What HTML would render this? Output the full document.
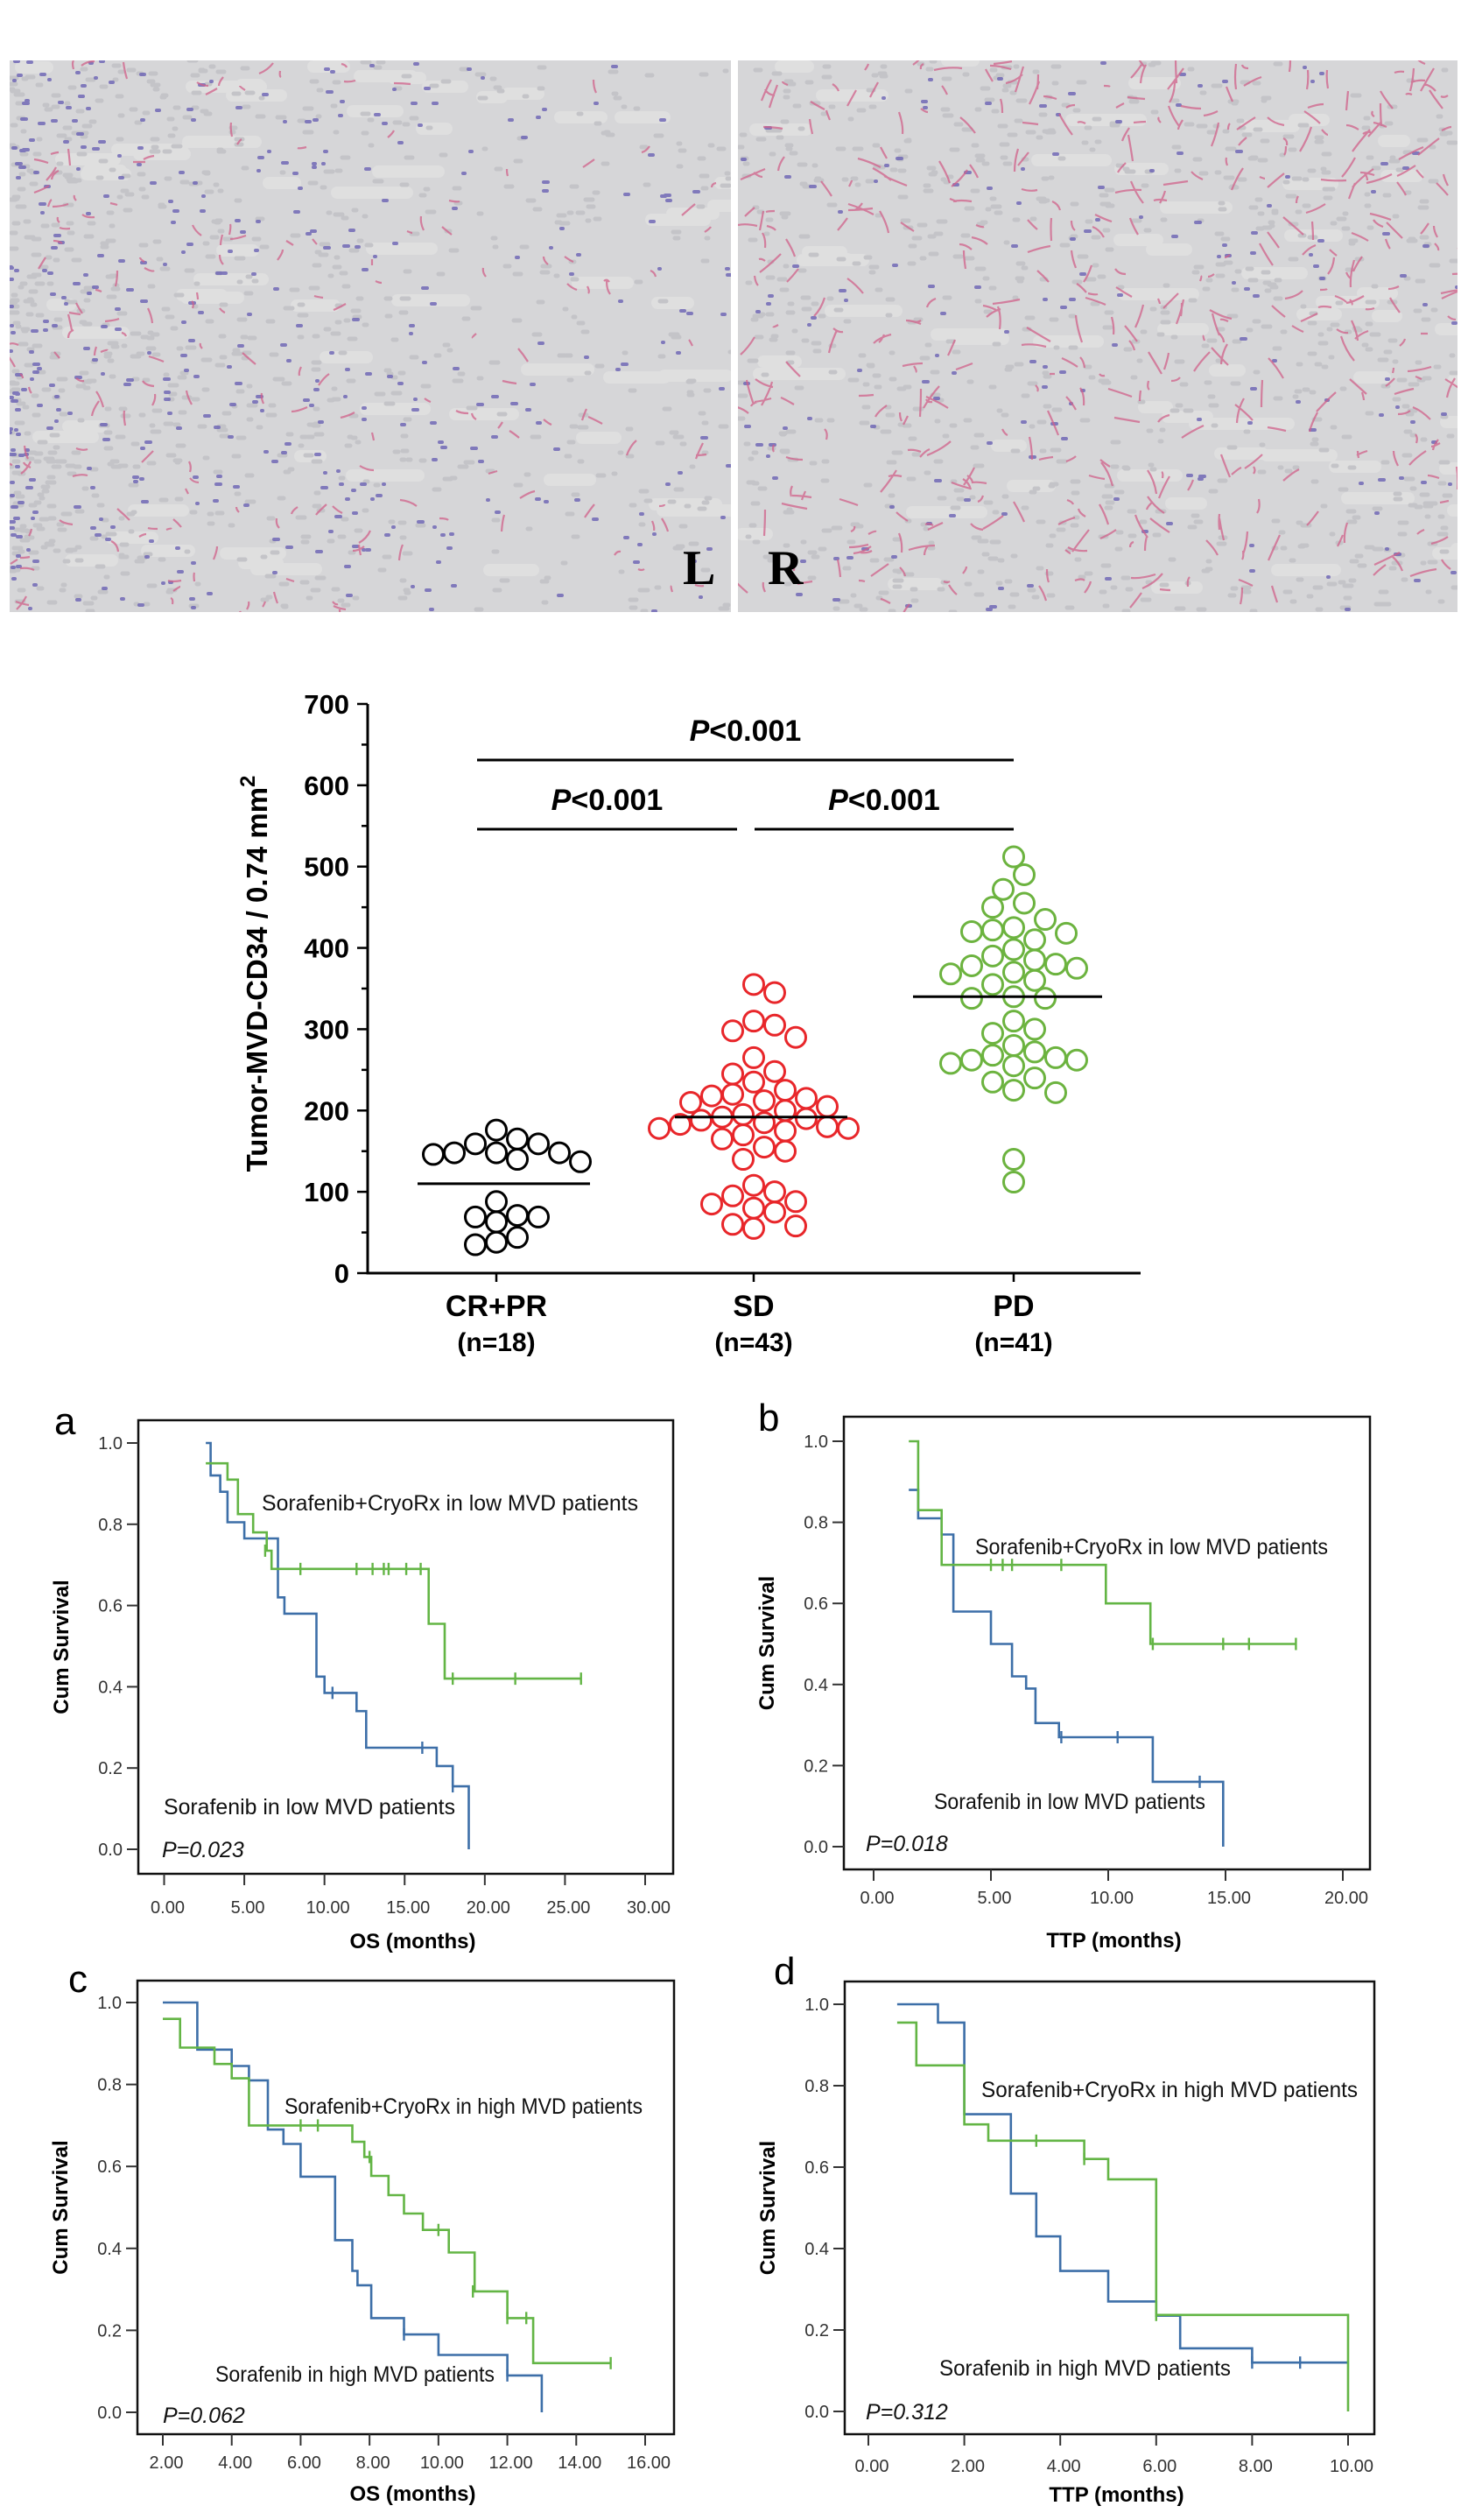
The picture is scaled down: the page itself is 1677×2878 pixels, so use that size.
<!DOCTYPE html>
<html><head><meta charset="utf-8"><title>MVD figure</title>
<style>
html,body{margin:0;padding:0;background:#fff;}
svg{display:block;font-family:"Liberation Sans",Arial,sans-serif;}
.tk{font-size:20px;fill:#333;}
.lbl{font-family:"Liberation Sans Narrow","Liberation Sans",sans-serif;font-size:25px;fill:#111;}
</style></head>
<body>
<svg id="fig" width="1677" height="2878" viewBox="0 0 1677 2878" xmlns="http://www.w3.org/2000/svg">
<defs>
  <clipPath id="clipL"><rect x="11" y="69" width="824" height="630"/></clipPath>
  <clipPath id="clipR"><rect x="843" y="69" width="822" height="630"/></clipPath>
</defs>
<g id="photos">
  <rect x="11" y="69" width="824" height="630" fill="#d6d6d8"/>
  <rect x="843" y="69" width="822" height="630" fill="#d6d6d8"/>
  <g id="tissueL" clip-path="url(#clipL)"></g>
  <g id="tissueR" clip-path="url(#clipR)"></g>
  <text x="780" y="667" font-family="Liberation Serif,serif" font-weight="bold" font-size="56">L</text>
  <text x="877" y="667" font-family="Liberation Serif,serif" font-weight="bold" font-size="56">R</text>
</g>
<g id="scatter"></g>
<g id="km"></g>
</svg>
<script>
// ---------------- scatter data ----------------
const groups = ["CR+PR","SD","PD"];
const groupN = ["(n=18)","(n=43)","(n=41)"];
const crprValues = [176,148,146,159,140,165,148,159,148,137,88,69,71,63,69,35,44,38];
const sdValues = [355,345,310,305,298,290,265,248,245,235,225,220,218,215,212,210,205,200,195,192,190,188,185,183,180,178,178,175,170,165,155,150,140,108,100,95,88,85,80,75,60,58,55];
const pdValues = [512,490,472,455,450,435,425,422,420,418,410,398,390,385,380,378,375,370,368,360,355,340,338,338,310,300,280,272,268,265,262,258,255,240,235,225,222,140,112,262,295];
const groupMeans = [110,192,340];
const yTicks = [0,100,200,300,400,500,600,700];
const sigLabels = ["P<0.001","P<0.001","P<0.001"];

// ---------------- KM data ----------------
const aBlueSteps = [[2.6,1.0],[2.9,0.92],[3.5,0.88],[3.95,0.805],[5.0,0.765],[7.1,0.62],[7.5,0.58],[9.5,0.425],[10.0,0.385],[12.0,0.34],[12.6,0.25],[17.0,0.205],[18.0,0.155],[19.0,0.0]];
const aBlueCens = [[10.5,0.385],[16.1,0.25],[18.0,0.155]];
const aGreenSteps = [[2.6,0.95],[3.95,0.91],[4.6,0.825],[5.55,0.78],[6.4,0.735],[6.7,0.69],[16.5,0.555],[17.5,0.42],[26.0,0.42]];
const aGreenCens = [[6.3,0.735],[8.5,0.69],[12,0.69],[13,0.69],[13.7,0.69],[14,0.69],[15.1,0.69],[16,0.69],[18,0.42],[21.9,0.42],[26,0.42]];
const bBlueSteps = [[1.5,0.88],[1.9,0.81],[2.9,0.77],[3.4,0.58],[5.0,0.50],[5.9,0.42],[6.5,0.39],[6.9,0.305],[7.9,0.27],[11.9,0.16],[14.9,0.0]];
const bBlueCens = [[8.0,0.27],[10.4,0.27],[13.9,0.16]];
const bGreenSteps = [[1.5,1.0],[1.9,0.83],[2.9,0.695],[9.9,0.60],[11.8,0.50],[18.0,0.50]];
const bGreenCens = [[5.0,0.695],[5.5,0.695],[5.9,0.695],[8.0,0.695],[11.9,0.5],[14.9,0.5],[16,0.5],[18,0.5]];
const cBlueSteps = [[2.0,1.0],[3.0,0.885],[4.0,0.845],[4.5,0.81],[5.05,0.69],[5.5,0.655],[6.0,0.575],[7.0,0.42],[7.5,0.345],[7.65,0.31],[8.05,0.23],[9.0,0.19],[10.0,0.14],[12.0,0.09],[13.0,0.0]];
const cBlueCens = [[9.0,0.19],[12.0,0.09]];
const cGreenSteps = [[2.0,0.96],[2.5,0.89],[3.5,0.85],[4.0,0.815],[4.5,0.70],[7.5,0.66],[7.85,0.623],[8.05,0.577],[8.55,0.53],[9.0,0.485],[9.55,0.445],[10.3,0.39],[11.05,0.295],[12.0,0.23],[12.75,0.12],[15.0,0.12]];
const cGreenCens = [[6.0,0.70],[6.5,0.70],[8.0,0.623],[10.0,0.445],[11.0,0.295],[12.0,0.23],[12.55,0.23],[15.0,0.12]];
const dBlueSteps = [[0.6,1.0],[1.45,0.955],[2.0,0.73],[2.97,0.535],[3.5,0.43],[4.0,0.345],[5.0,0.27],[6.0,0.235],[6.5,0.155],[8.0,0.12],[10.0,0.12]];
const dBlueCens = [[8.0,0.12],[9.0,0.12]];
const dGreenSteps = [[0.6,0.955],[1.0,0.85],[2.0,0.705],[2.5,0.665],[4.5,0.62],[5.0,0.57],[6.0,0.237],[10.0,0.0]];
const dGreenCens = [[3.5,0.665],[4.5,0.62],[6.0,0.237]];
const aXTicks = [0,5,10,15,20,25,30];
const bXTicks = [0,5,10,15,20];
const cXTicks = [2,4,6,8,10,12,14,16];
const dXTicks = [0,2,4,6,8,10];
const survTicks = [0,0.2,0.4,0.6,0.8,1.0];

const NS = "http://www.w3.org/2000/svg";
function mk(parent, tag, attrs, text){
  const e = document.createElementNS(NS, tag);
  for (const k in attrs) e.setAttribute(k, attrs[k]);
  if (text !== undefined) e.textContent = text;
  parent.appendChild(e);
  return e;
}

// ---------------- tissue texture (decorative) ----------------
(function(){
  let s = 7;
  function rnd(){ s = (s*16807) % 2147483647; return s/2147483647; }
  [['tissueL',11,824,true],['tissueR',843,822,false]].forEach(([id,x0,w,isLeft])=>{
    const g = document.getElementById(id);
    let d1 = "", d2 = "", d3 = "", d4 = "";
    for (let i=0;i<1400;i++){
      let x = x0 + rnd()*w, y = 69 + rnd()*630;
      if (isLeft && rnd() < 0.5) x = x0 + Math.pow(rnd(),1.8)*w*0.55;
      const r = rnd();
      if (r < (isLeft?0.3:0.12)) {
        d1 += `M${x.toFixed(0)} ${y.toFixed(0)}h${(1+rnd()*4).toFixed(0)}`;
      } else if (r < (isLeft?0.42:0.42)) {
        const a = rnd()*6.28, L = 6+rnd()*(isLeft?14:26);
        d2 += `M${x.toFixed(0)} ${y.toFixed(0)}q${(Math.cos(a)*L/2+6*(rnd()-.5)).toFixed(0)} ${(Math.sin(a)*L/2+6*(rnd()-.5)).toFixed(0)} ${(Math.cos(a)*L).toFixed(0)} ${(Math.sin(a)*L).toFixed(0)}`;
      } else {
        d3 += `M${x.toFixed(0)} ${y.toFixed(0)}h${(2+rnd()*6).toFixed(0)}`;
      }
    }
    for (let i=0;i<60;i++){
      d4 += `M${(x0+rnd()*w).toFixed(0)} ${(69+rnd()*630).toFixed(0)}h${(20+rnd()*60).toFixed(0)}`;
    }
    const p4 = mk(g,'path',{d:d4,stroke:'#e2e2e3','stroke-width':14,'stroke-linecap':'round',fill:'none',opacity:0.7});
    
    
    const p3 = mk(g,'path',{d:d3,stroke:'#c4c4c8','stroke-width':5,'stroke-linecap':'round',fill:'none'});
    
    
    const p1 = mk(g,'path',{d:d1,stroke:'#6a62b4','stroke-width':4,'stroke-linecap':'round',fill:'none',opacity:0.8});
    
    
    const p2 = mk(g,'path',{d:d2,stroke:'#d0608a','stroke-width':2.2,fill:'none',opacity:0.75});
    
    
  });
})();

// ---------------- scatter ----------------
(function(){
  const g = document.getElementById('scatter');
  const X0 = 420, X1 = 1303, Y0 = 1454, PX = 0.9286;
  const yS = v => Y0 - v*PX;
  const catX = [567, 861, 1158];
  const xS = i => catX[i];
  const colors = ["#000000","#e8262a","#6cb33f"];
  const all = [crprValues, sdValues, pdValues];
  const ax = mk(g,'path',{d:`M${X0} ${yS(700)}V${Y0}H${X1}`,stroke:'#000','stroke-width':3,fill:'none'});
  
  
  for (let v=0; v<=700; v+=50){
    const major = v%100===0;
    const t = mk(g,'line',{x1:X0-(major?12:7),x2:X0,y1:yS(v),y2:yS(v),stroke:'#000','stroke-width':2.5});
    
    
  }
  yTicks.forEach(v=>{
    const t = mk(g,'text',{x:399,y:yS(v)+11,'text-anchor':'end','font-size':31,'font-weight':'bold'},String(v));
    
    
  });
  const yt = mk(g,'text',{transform:`translate(305,1112) rotate(-90)`,'text-anchor':'middle','font-size':33,'font-weight':'bold'});
  
  
  yt.textContent = 'Tumor-MVD-CD34 / 0.74 mm';
  mk(yt,'tspan',{dy:-14,'font-size':24},'2');
  groups.forEach((name,i)=>{
    const t = mk(g,'line',{x1:xS(i),x2:xS(i),y1:Y0,y2:Y0+10,stroke:'#000','stroke-width':2.5});
    
    
    const l = mk(g,'text',{x:xS(i),y:1503,'text-anchor':'middle','font-size':34,'font-weight':'bold'},name);
    
    
    const n = mk(g,'text',{x:xS(i),y:1543,'text-anchor':'middle','font-size':30,'font-weight':'bold'},groupN[i]);
    
    
  });
  const R = 11.5, D = 24;
  all.forEach((vals,gi)=>{
    const placed = [];
    const order = vals.map((v,i)=>i).sort((a,b)=>vals[b]-vals[a]);
    order.forEach(idx=>{
      const cy = yS(vals[idx]);
      let off = 0;
      for (let k=0;k<40;k++){
        const cand = (k===0)?0:((k%2===1)?1:-1)*Math.ceil(k/2)*D/2;
        const cx = xS(gi)+cand;
        if (placed.every(p=>Math.hypot(p[0]-cx,p[1]-cy)>=D-1)) { off = cand; break; }
      }
      placed.push([xS(gi)+off, cy]);
      const c = mk(g,'circle',{cx:xS(gi)+off,cy:cy,r:R,fill:'none',stroke:colors[gi],'stroke-width':3});
      
      
    });
    const m = mk(g,'line',{x1:xS(gi)-(gi===2?115:90),x2:xS(gi)+(gi===2?101:107),y1:yS(groupMeans[gi]),y2:yS(groupMeans[gi]),stroke:'#000','stroke-width':3});
    
    
  });
  const sig = [[545,1158,868],[545,842,947],[862,1158,947]];
  sig.forEach((s,i)=>{
    const l = mk(g,'line',{x1:s[0],x2:s[1],y1:s[2],y2:s[2],stroke:'#000','stroke-width':3});
    
    
    const t = mk(g,'text',{x:(s[0]+s[1])/2,y:s[2]-22,'text-anchor':'middle','font-size':34,'font-weight':'bold'});
    
    
    mk(t,'tspan',{'font-style':'italic'},sigLabels[i].charAt(0));
    mk(t,'tspan',{},sigLabels[i].slice(1));
  });
})();

// ---------------- KM panels ----------------
function drawKM(cfg){
  const root = document.getElementById('km');
  const g = mk(root,'g',{});
  
  
  const xS = t => cfg.px0 + (t-cfg.t0)/(cfg.t1-cfg.t0)*(cfg.px1-cfg.px0);
  const yS = s => cfg.py0 - s*(cfg.py0-cfg.py1);
  const box = mk(g,'rect',{x:cfg.bx,y:cfg.by,width:cfg.bw,height:cfg.bh,fill:'none',stroke:'#111','stroke-width':2.5});
  
  
  survTicks.forEach(s=>{
    const t = mk(g,'line',{x1:cfg.bx-13,x2:cfg.bx,y1:yS(s),y2:yS(s),stroke:'#333','stroke-width':2});
    
    
    const l = mk(g,'text',{x:cfg.bx-18,y:yS(s)+7,'text-anchor':'end',class:'tk'},s.toFixed(1));
    
    
  });
  cfg.xt.forEach(v=>{
    const t = mk(g,'line',{x1:xS(v),x2:xS(v),y1:cfg.by+cfg.bh,y2:cfg.by+cfg.bh+13,stroke:'#333','stroke-width':2});
    
    
    const l = mk(g,'text',{x:xS(v)+4,y:cfg.tly,'text-anchor':'middle',class:'tk'},v.toFixed(2));
    
    
  });
  const xt = mk(g,'text',{x:cfg.bx+cfg.bw/2+8,y:cfg.tty,'text-anchor':'middle','font-size':24,'font-weight':'bold'},cfg.xtitle);
  
  
  const yt = mk(g,'text',{transform:`translate(${cfg.bx-80},${cfg.by+cfg.bh/2}) rotate(-90)`,'text-anchor':'middle','font-size':24,'font-weight':'bold'},'Cum Survival');
  
  
  const le = mk(g,'text',{x:cfg.lx,y:cfg.ly,'font-size':44,'font-family':'Liberation Sans, sans-serif'},cfg.letter);
  
  
  [[cfg.blue,cfg.blueC,'#3d6fa8','sorafenib-curve'],[cfg.green,cfg.greenC,'#63b545','combination-curve']].forEach(([steps,cens,col,name])=>{
    let d = `M${xS(steps[0][0]).toFixed(1)} ${yS(steps[0][1]).toFixed(1)}`;
    for (let i=1;i<steps.length;i++){
      d += `H${xS(steps[i][0]).toFixed(1)}V${yS(steps[i][1]).toFixed(1)}`;
    }
    const p = mk(g,'path',{d:d,fill:'none',stroke:col,'stroke-width':2.6});
    
    
    cens.forEach(c=>{
      const m = mk(g,'line',{x1:xS(c[0]),x2:xS(c[0]),y1:yS(c[1])-7,y2:yS(c[1])+7,stroke:col,'stroke-width':2.4});
      
      
    });
  });
  const gl = mk(g,'text',{x:cfg.glx,y:cfg.gly,class:'lbl',textLength:cfg.glw,lengthAdjust:'spacingAndGlyphs'},cfg.glabel);
  
  
  const bl = mk(g,'text',{x:cfg.blx,y:cfg.bly,class:'lbl',textLength:cfg.blw,lengthAdjust:'spacingAndGlyphs'},cfg.blabel);
  
  
  const pv = mk(g,'text',{x:cfg.pvx,y:cfg.pvy,class:'lbl','font-style':'italic'},cfg.pval);
  
  
}

drawKM({letter:'a',bx:158,by:1622,bw:611,bh:518,px0:187.5,px1:737,t0:0,t1:30,py0:2112,py1:1648,xt:aXTicks,
  tly:2185,tty:2225,xtitle:'OS (months)',lx:62,ly:1638,blue:aBlueSteps,blueC:aBlueCens,green:aGreenSteps,greenC:aGreenCens,
  glabel:'Sorafenib+CryoRx in low MVD patients',glx:299,gly:1725,glw:430,
  blabel:'Sorafenib in low MVD patients',blx:187,bly:2072,blw:333,pval:'P=0.023',pvx:185,pvy:2121});
drawKM({letter:'b',bx:964,by:1618,bw:601,bh:517,px0:998,px1:1534,t0:0,t1:20,py0:2109,py1:1646,xt:bXTicks,
  tly:2174,tty:2224,xtitle:'TTP (months)',lx:866,ly:1634,blue:bBlueSteps,blueC:bBlueCens,green:bGreenSteps,greenC:bGreenCens,
  glabel:'Sorafenib+CryoRx in low MVD patients',glx:1114,gly:1775,glw:403,
  blabel:'Sorafenib in low MVD patients',blx:1067,bly:2066,blw:310,pval:'P=0.018',pvx:989,pvy:2114});
drawKM({letter:'c',bx:157,by:2262,bw:613,bh:518,px0:186,px1:737,t0:2,t1:16,py0:2755,py1:2287,xt:cXTicks,
  tly:2819,tty:2856,xtitle:'OS (months)',lx:78,ly:2275,blue:cBlueSteps,blueC:cBlueCens,green:cGreenSteps,greenC:cGreenCens,
  glabel:'Sorafenib+CryoRx in high MVD patients',glx:325,gly:2414,glw:409,
  blabel:'Sorafenib in high MVD patients',blx:246,bly:2720,blw:319,pval:'P=0.062',pvx:186,pvy:2767});
drawKM({letter:'d',bx:965,by:2263,bw:605,bh:517,px0:992,px1:1540,t0:0,t1:10,py0:2754,py1:2289,xt:dXTicks,
  tly:2823,tty:2857,xtitle:'TTP (months)',lx:884,ly:2266,blue:dBlueSteps,blueC:dBlueCens,green:dGreenSteps,greenC:dGreenCens,
  glabel:'Sorafenib+CryoRx in high MVD patients',glx:1121,gly:2395,glw:430,
  blabel:'Sorafenib in high MVD patients',blx:1073,bly:2713,blw:333,pval:'P=0.312',pvx:989,pvy:2763});
</script>
</body></html>
